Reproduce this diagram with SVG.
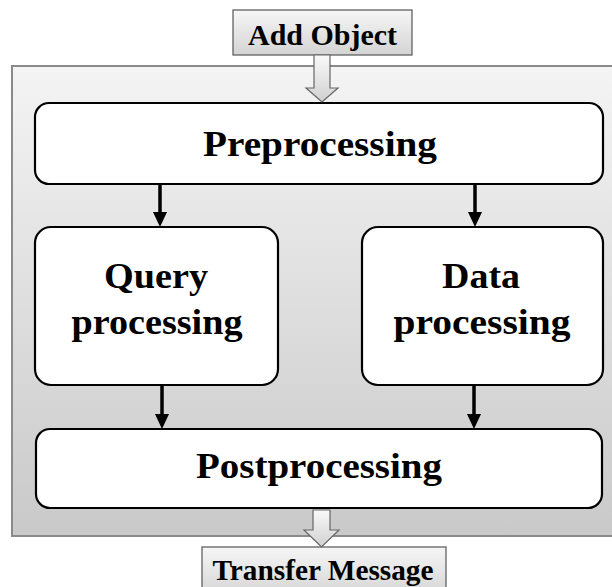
<svg xmlns="http://www.w3.org/2000/svg" width="612" height="587" viewBox="0 0 612 587">
  <defs>
    <linearGradient id="bg" x1="0" y1="0" x2="0" y2="1">
      <stop offset="0" stop-color="#f4f4f4"/>
      <stop offset="1" stop-color="#c9c9c9"/>
    </linearGradient>
    <linearGradient id="lbl" x1="0" y1="0" x2="0" y2="1">
      <stop offset="0" stop-color="#f6f6f6"/>
      <stop offset="1" stop-color="#d4d4d4"/>
    </linearGradient>
    <linearGradient id="harrow" x1="0" y1="0" x2="0" y2="1">
      <stop offset="0" stop-color="#fafafa"/>
      <stop offset="1" stop-color="#d0d0d0"/>
    </linearGradient>
    <marker id="ah" markerWidth="15" markerHeight="14" refX="1" refY="7" orient="auto" markerUnits="userSpaceOnUse" viewBox="0 0 15 14">
      <path d="M0,0 L15,7 L0,14 Z" fill="#000"/>
    </marker>
  </defs>
  <style>
    .box { fill: #ffffff; stroke: #000; stroke-width: 2.2; }
    .lbl { fill: url(#lbl); stroke: #555; stroke-width: 1.2; }
    .t { font-family: "Liberation Serif", "Times New Roman", serif; font-weight: bold; fill: #000; text-anchor: middle; }
    .big { font-size: 36px; }
    .conn { stroke: #000; stroke-width: 3.5; fill: none; }
    .hollow { fill: url(#harrow); stroke: #666; stroke-width: 1.2; }
  </style>

  <rect width="612" height="587" fill="#ffffff"/>

  <g id="container">
    <rect x="12" y="66" width="610" height="470" fill="url(#bg)" stroke="#8a8a8a" stroke-width="2"/>
  </g>

  <g id="add-object">
    <rect class="lbl" x="233" y="10" width="179" height="45"/>
    <text class="t" x="322.5" y="45" font-size="29" textLength="149" lengthAdjust="spacingAndGlyphs">Add Object</text>
  </g>

  <g id="transfer-message">
    <rect class="lbl" x="202" y="547" width="244" height="50"/>
    <text class="t" x="323" y="580" font-size="29" textLength="221" lengthAdjust="spacingAndGlyphs">Transfer Message</text>
  </g>

  <g id="preprocessing">
    <rect class="box" x="35" y="103" width="568" height="81" rx="14" ry="14"/>
    <text class="t big" x="320" y="156" textLength="234" lengthAdjust="spacingAndGlyphs">Preprocessing</text>
  </g>

  <g id="query-processing">
    <rect class="box" x="35" y="227" width="243" height="158" rx="16" ry="16"/>
    <text class="t big" x="156" y="288" textLength="104" lengthAdjust="spacingAndGlyphs">Query</text>
    <text class="t big" x="157" y="334" textLength="171" lengthAdjust="spacingAndGlyphs">processing</text>
  </g>

  <g id="data-processing">
    <rect class="box" x="362" y="227" width="241" height="158" rx="16" ry="16"/>
    <text class="t big" x="481" y="288" textLength="78" lengthAdjust="spacingAndGlyphs">Data</text>
    <text class="t big" x="482" y="334" textLength="177" lengthAdjust="spacingAndGlyphs">processing</text>
  </g>

  <g id="postprocessing">
    <rect class="box" x="36" y="429" width="566" height="79" rx="14" ry="14"/>
    <text class="t big" x="319" y="478" textLength="246" lengthAdjust="spacingAndGlyphs">Postprocessing</text>
  </g>

  <g id="connectors">
    <path class="hollow" d="M314,55 L330,55 L330,88 L338,88 L322,102 L306,88 L314,88 Z"/>
    <path class="hollow" d="M313,510 L330,510 L330,530 L339,530 L321.5,547 L304,530 L313,530 Z"/>
    <line class="conn" x1="160" y1="185" x2="160" y2="213" marker-end="url(#ah)"/>
    <line class="conn" x1="475" y1="185" x2="475" y2="213" marker-end="url(#ah)"/>
    <line class="conn" x1="162" y1="386" x2="162" y2="415" marker-end="url(#ah)"/>
    <line class="conn" x1="474" y1="386" x2="474" y2="415" marker-end="url(#ah)"/>
  </g>
</svg>
